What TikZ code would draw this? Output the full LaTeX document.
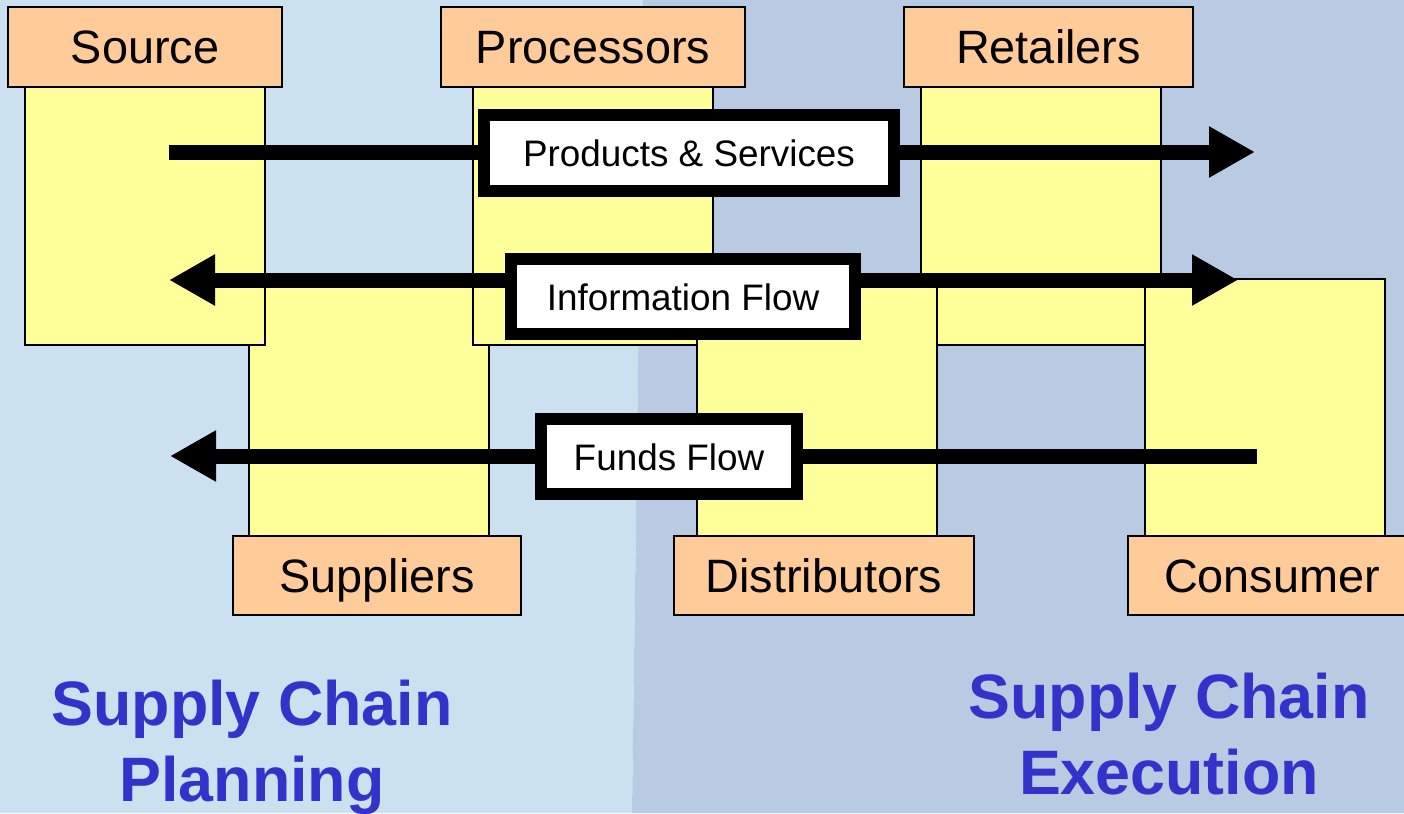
\documentclass[tikz,border=0pt]{standalone}
\usepackage{fontspec}
\setmainfont{Liberation Sans}
\usetikzlibrary{arrows.meta}

\definecolor{planbg}{HTML}{CCE1EF}
\definecolor{execbg}{HTML}{B9CAE3}
\definecolor{colyellow}{HTML}{FFFF99}
\definecolor{headorange}{HTML}{FFCC99}
\definecolor{titleblue}{HTML}{3333CC}

\tikzset{
  colbox/.style={draw, line width=2bp, fill=colyellow, inner sep=0pt,
    minimum width=240bp, minimum height=336bp},
  headbox/.style={draw, line width=2bp, fill=headorange, inner sep=0pt,
    minimum height=79bp, font=\fontsize{47}{50}\selectfont,
    text height=34bp, text depth=0pt},
  flowbox/.style={draw, line width=12bp, fill=white, inner sep=0pt,
    minimum height=75bp, font=\fontsize{37}{40}\selectfont,
    text height=27bp, text depth=0pt},
  flowline/.style={line width=15bp},
  bigtip/.tip={Triangle[length=46bp, width=48bp]},
  sctitle/.style={text=titleblue, align=center, inner sep=0pt, anchor=north,
    font=\fontsize{63}{76}\selectfont\bfseries}
}

\begin{document}
\begin{tikzpicture}[x=1bp, y=-1bp]
  \useasboundingbox (0,0) rectangle (1404,813);
  \clip (0,0) rectangle (1404,813);
  % planning and execution halves
  \fill[planbg] (0,0) -- (643,0) -- (632,813) -- (0,813) -- cycle;
  \fill[execbg] (643,0) -- (1404,0) -- (1404,813) -- (632,813) -- cycle;

  % yellow columns
  \node[colbox, anchor=south] (suppliers-col) at (369,616) {};
  \node[colbox, anchor=north] (source-col) at (145,8) {};
  \node[colbox, anchor=north] (processors-col) at (593,8) {};
  \node[colbox, anchor=north] (retailers-col) at (1041,8) {};
  \node[colbox, anchor=south] (distributors-col) at (817,616) {};
  \node[colbox, anchor=south] (consumer-col) at (1265,616) {};

  % headers and footers
  \node[headbox, minimum width=274bp] (source) at (145,47) {Source};
  \node[headbox, minimum width=304bp] (processors) at (593,47) {Processors};
  \node[headbox, minimum width=289bp] (retailers) at (1048.5,47) {Retailers};
  \node[headbox, minimum width=288bp] (suppliers) at (377,575) {Suppliers};
  \node[headbox, minimum width=300bp] (distributors) at (824,575) {Distributors};
  \node[headbox, minimum width=288bp] (consumer) at (1272,575) {Consumer};

  % flows
  \coordinate (goods-from) at (169,152);
  \coordinate (goods-to) at (1255,152);
  \coordinate (info-left) at (169,280);
  \coordinate (info-right) at (1238,280);
  \coordinate (funds-from) at (1257,456);
  \coordinate (funds-to) at (170,456);
  \draw[flowline, -bigtip] (goods-from) -- (goods-to);
  \draw[flowline, bigtip-bigtip] (info-left) -- (info-right);
  \draw[flowline, -bigtip] (funds-from) -- (funds-to);

  \node[flowbox, minimum width=410bp, minimum height=76bp] (goods) at (689,153)
    {Products \& Services};
  \node[flowbox, minimum width=344bp] (info) at (683,296.5) {Information Flow};
  \node[flowbox, minimum width=256bp] (funds) at (669,456.5) {Funds Flow};

  % titles
  \node[sctitle] (planning) at (252,680) {Supply Chain\\Planning};
  \node[sctitle] (execution) at (1169,673) {Supply Chain\\Execution};
\end{tikzpicture}
\end{document}
